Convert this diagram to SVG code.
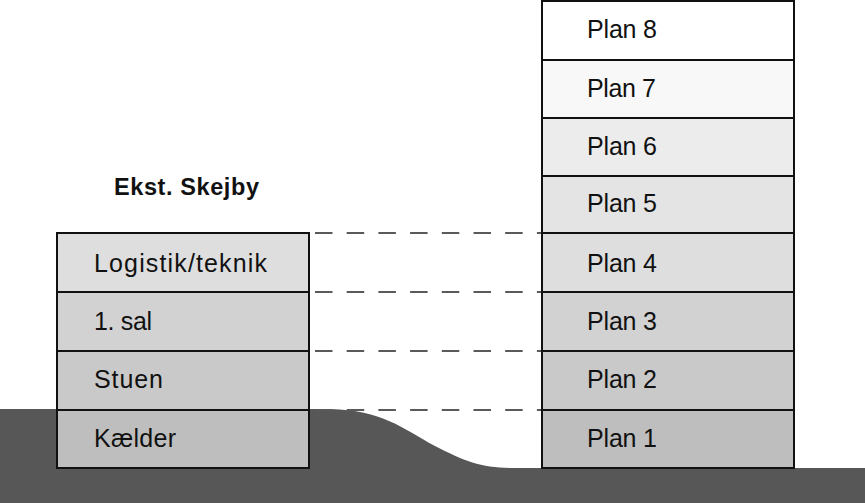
<svg xmlns="http://www.w3.org/2000/svg" width="865" height="503" viewBox="0 0 865 503">
<style>
.fl{stroke:#111;stroke-width:2}
.t{font-family:"Liberation Sans",Arial,sans-serif;font-size:25px;fill:#111}
.h{font-family:"Liberation Sans",Arial,sans-serif;font-size:23.5px;font-weight:bold;fill:#111}
.dash{stroke:#5a5a5a;stroke-width:2;stroke-dasharray:17.5 14.2;fill:none}
</style>
<rect width="865" height="503" fill="#fff"/>
<path id="ground" d="M0,409 H330 C382,410 402,428 435,446 C466,462 482,468 515,468 H865 V503 H0 Z" fill="#575757"/>
<g id="connectors">
<line class="dash" x1="315" y1="233" x2="542" y2="233"/>
<line class="dash" x1="315" y1="292" x2="542" y2="292"/>
<line class="dash" x1="315" y1="351" x2="542" y2="351"/>
<line class="dash" x1="315" y1="410" x2="542" y2="410"/>
</g>
<text id="title" class="h" x="114" y="195" textLength="145">Ekst. Skejby</text>
<g id="left-building">
<g id="logistik"><rect class="fl" x="57" y="233" width="252" height="59" fill="#dedede"/><text class="t" x="94" y="272" textLength="173">Logistik/teknik</text></g>
<g id="sal1"><rect class="fl" x="57" y="292" width="252" height="59" fill="#d2d2d2"/><text class="t" x="94" y="330" textLength="58">1. sal</text></g>
<g id="stuen"><rect class="fl" x="57" y="351" width="252" height="59" fill="#c9c9c9"/><text class="t" x="94" y="388" textLength="69">Stuen</text></g>
<g id="kaelder"><rect class="fl" x="57" y="410" width="252" height="58" fill="#bebebe"/><text class="t" x="94" y="447" textLength="82">Kælder</text></g>
</g>
<g id="right-building">
<g id="plan8"><rect class="fl" x="542" y="1" width="252" height="59" fill="#ffffff"/><text class="t" x="587" y="38" textLength="70">Plan 8</text></g>
<g id="plan7"><rect class="fl" x="542" y="60" width="252" height="58" fill="#f8f8f8"/><text class="t" x="587" y="97" textLength="69">Plan 7</text></g>
<g id="plan6"><rect class="fl" x="542" y="118" width="252" height="58" fill="#ececec"/><text class="t" x="587" y="155" textLength="70">Plan 6</text></g>
<g id="plan5"><rect class="fl" x="542" y="176" width="252" height="57" fill="#e4e4e4"/><text class="t" x="587" y="212" textLength="70">Plan 5</text></g>
<g id="plan4"><rect class="fl" x="542" y="233" width="252" height="59" fill="#dedede"/><text class="t" x="587" y="272" textLength="70">Plan 4</text></g>
<g id="plan3"><rect class="fl" x="542" y="292" width="252" height="59" fill="#d2d2d2"/><text class="t" x="587" y="330" textLength="70">Plan 3</text></g>
<g id="plan2"><rect class="fl" x="542" y="351" width="252" height="59" fill="#c9c9c9"/><text class="t" x="587" y="388" textLength="70">Plan 2</text></g>
<g id="plan1"><rect class="fl" x="542" y="410" width="252" height="58" fill="#bebebe"/><text class="t" x="587" y="447" textLength="70">Plan 1</text></g>
</g>
</svg>
